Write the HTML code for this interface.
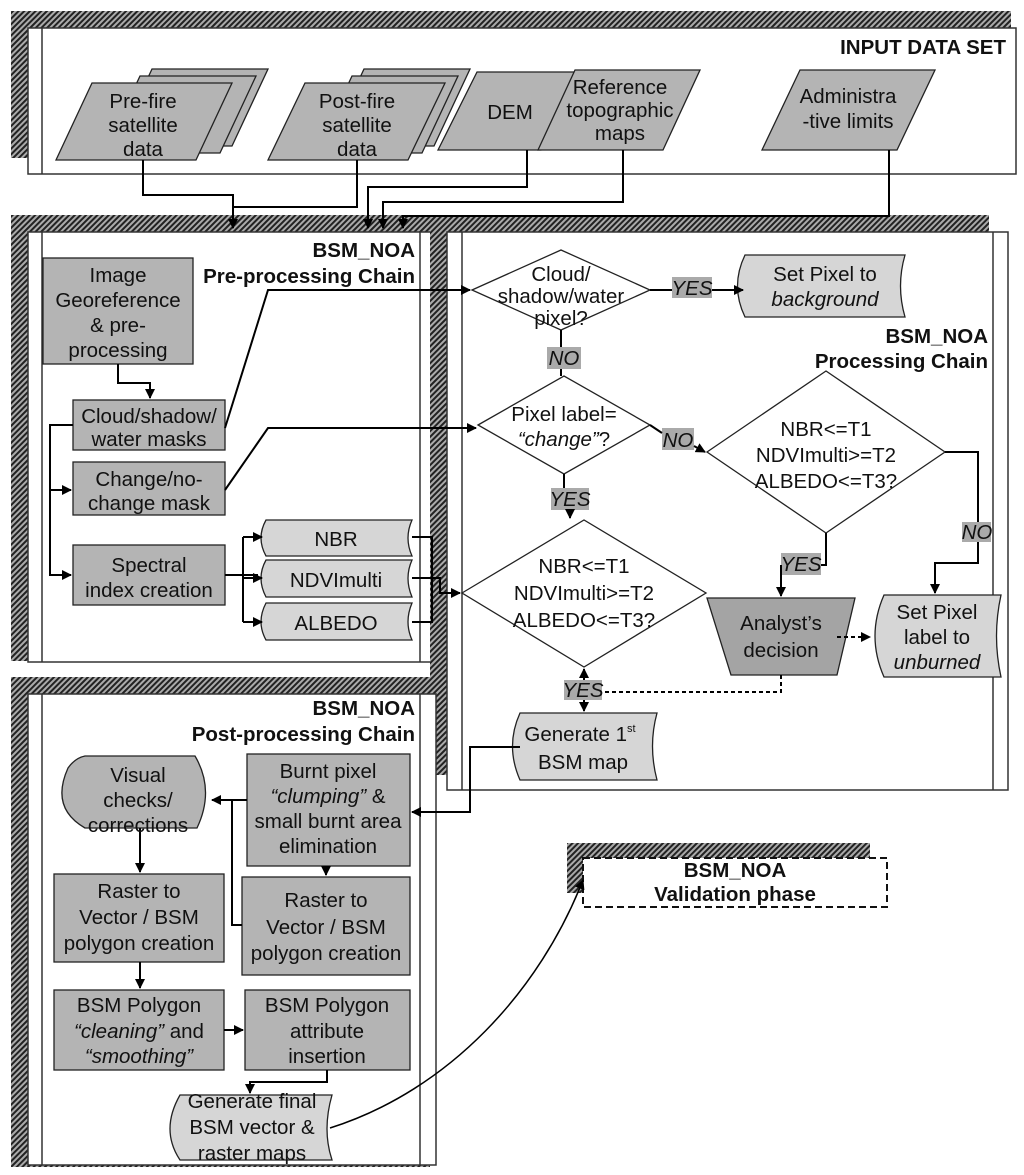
<!DOCTYPE html>
<html><head><meta charset="utf-8"><style>
html,body{margin:0;padding:0;background:#fff}
svg{display:block}
text{font-family:"Liberation Sans",Arial,sans-serif;font-size:20.5px;fill:#111}
.b{font-weight:bold}
.i{font-style:italic}
</style></head><body>
<svg width="1024" height="1175" viewBox="0 0 1024 1175" xmlns="http://www.w3.org/2000/svg">
<defs>
<pattern id="h" patternUnits="userSpaceOnUse" width="4" height="4" patternTransform="rotate(45)">
<rect width="4" height="4" fill="#aaa"/><rect width="2" height="4" fill="#222"/>
</pattern>
<marker id="a" markerWidth="10" markerHeight="10" refX="9" refY="5" orient="auto" markerUnits="userSpaceOnUse"><path d="M0,0 L10,5 L0,10 Z" fill="#000"/></marker>
</defs>
<g stroke="#333" stroke-width="1.5" fill="none">
<rect x="11" y="11" width="1000" height="147" fill="url(#h)" stroke="none"/>
<rect x="28" y="28" width="988" height="146" fill="#fff"/>
<line x1="42" y1="28" x2="42" y2="174"/>
<rect x="11" y="215" width="426" height="446" fill="url(#h)" stroke="none"/>
<rect x="28" y="232" width="409" height="430" fill="#fff"/>
<line x1="42" y1="232" x2="42" y2="662"/>
<line x1="420" y1="232" x2="420" y2="662"/>
<rect x="430" y="215" width="559" height="560" fill="url(#h)" stroke="none"/>
<rect x="447" y="232" width="561" height="558" fill="#fff"/>
<line x1="462" y1="232" x2="462" y2="790"/>
<line x1="993" y1="232" x2="993" y2="790"/>
<rect x="11" y="677" width="419" height="490" fill="url(#h)" stroke="none"/>
<rect x="28" y="694" width="408" height="471" fill="#fff"/>
<line x1="42" y1="694" x2="42" y2="1165"/>
<line x1="420" y1="694" x2="420" y2="1165"/>
<rect x="567" y="843" width="303" height="50" fill="url(#h)" stroke="none"/>
<rect x="583" y="858" width="304" height="49" fill="#fff" stroke="#111" stroke-width="2" stroke-dasharray="7,4"/>
</g>
<g stroke="#222" stroke-width="1.3" fill="#b4b4b4">
<path d="M116,146 L152,69 L268,69 L232,146 Z"/>
<path d="M104,153 L140,76 L256,76 L220,153 Z"/>
<path d="M56,160 L92,83 L232,83 L196,160 Z"/>
<path d="M328,146 L364,69 L470,69 L434,146 Z"/>
<path d="M316,153 L352,76 L458,76 L422,153 Z"/>
<path d="M268,160 L305,83 L445,83 L408,160 Z"/>
<path d="M438,150 L477,72 L580,72 L541,150 Z"/>
<path d="M538,150 L575,70 L700,70 L663,150 Z"/>
<path d="M762,150 L800,70 L935,70 L897,150 Z"/>
<rect x="43" y="258" width="150" height="106"/>
<rect x="73" y="400" width="152" height="50"/>
<rect x="73" y="462" width="152" height="53"/>
<rect x="73" y="545" width="152" height="60"/>
<path d="M266,520 L412,520 Q404,538 412,556 L266,556 Q256,538 266,520 Z" fill="#d6d6d6"/>
<path d="M266,560 L412,560 Q404,578 412,597 L266,597 Q256,578 266,560 Z" fill="#d6d6d6"/>
<path d="M266,603 L412,603 Q404,622 412,640 L266,640 Q256,622 266,603 Z" fill="#d6d6d6"/>
<path d="M745,255 L905,255 Q896,286 905,317 L745,317 Q730,286 745,255 Z" fill="#d6d6d6"/>
<path d="M884,595 L1001,595 Q992,636 1001,677 L884,677 Q866,636 884,595 Z" fill="#d6d6d6"/>
<path d="M707,598 L855,598 L837,675 L731,675 Z" fill="#a4a4a4"/>
<path d="M520,713 L657,713 Q648,746 657,780 L520,780 Q505,746 520,713 Z" fill="#d6d6d6"/>
<g fill="#fff">
<path d="M472,290 L561,250 L650,290 L561,330 Z"/>
<path d="M478,425 L564,376 L650,425 L564,474 Z"/>
<path d="M707,452 L826,371 L945,452 L826,533 Z"/>
<path d="M462,593 L584,520 L706,593 L584,667 Z"/>
</g>
<path d="M85,756 L195,756 Q215,790 197,828 L85,828 Q50,808 68,768 Q75,758 85,756 Z"/>
<rect x="247" y="754" width="163" height="112"/>
<rect x="54" y="874" width="170" height="88"/>
<rect x="242" y="877" width="168" height="98"/>
<rect x="54" y="990" width="170" height="80"/>
<rect x="245" y="990" width="165" height="80"/>
<path d="M180,1095 L332,1095 Q322,1130 332,1160 L180,1160 Q160,1130 180,1095 Z" fill="#d6d6d6"/>
</g>
<g fill="#aaa" stroke="none">
<rect x="672" y="277" width="40" height="21"/>
<rect x="547" y="347" width="34" height="22"/>
<rect x="662" y="428" width="32" height="22"/>
<rect x="551" y="488" width="38" height="22"/>
<rect x="781" y="553" width="40" height="22"/>
<rect x="962" y="522" width="29" height="20"/>
<rect x="564" y="680" width="38" height="20"/>
</g>
<g stroke="#000" stroke-width="2" fill="none">
<path d="M143,160 V195 H233 V228" marker-end="url(#a)"/>
<path d="M357,160 V207 H233"/>
<path d="M527,150 V187 H368 V228" marker-end="url(#a)"/>
<path d="M623,150 V202 H383 V228" marker-end="url(#a)"/>
<path d="M889,150 V216 H403 V228" marker-end="url(#a)"/>
<path d="M118,364 V383 H150 V398" marker-end="url(#a)"/>
<path d="M225,428 L268,290 H470" marker-end="url(#a)"/>
<path d="M225,490 L268,428 H476" marker-end="url(#a)"/>
<path d="M73,425 H50 V575 H71" marker-end="url(#a)"/>
<path d="M50,490 H71" marker-end="url(#a)"/>
<path d="M225,575 H258"/>
<path d="M243,537 V622"/>
<path d="M243,537 H262" marker-end="url(#a)"/>
<path d="M243,578 H262" marker-end="url(#a)"/>
<path d="M243,622 H262" marker-end="url(#a)"/>
<path d="M412,537 H432 V622 H412"/>
<path d="M412,578 H440 V593 H460" marker-end="url(#a)"/>
<path d="M650,290 H672"/><path d="M712,290 H743" marker-end="url(#a)"/>
<path d="M561,330 V347"/><path d="M561,369 V376"/>
<path d="M650,425 L662,433"/><path d="M694,446 L705,452" marker-end="url(#a)"/>
<path d="M564,474 V488"/><path d="M570,510 V518" marker-end="url(#a)"/>
<path d="M826,533 V565 H821"/><path d="M781,565 V596" marker-end="url(#a)"/>
<path d="M945,452 H978 V522"/><path d="M978,542 V563 H935 V593" marker-end="url(#a)"/>
<path d="M584,680 V669" marker-end="url(#a)"/>
<path d="M584,700 V711" marker-end="url(#a)"/>
<path d="M520,747 H470 V812 H412" marker-end="url(#a)"/>
<path d="M247,800 H212" marker-end="url(#a)"/>
<path d="M242,925 H232 V800"/>
<path d="M140,828 V872" marker-end="url(#a)"/>
<path d="M140,962 V988" marker-end="url(#a)"/>
<path d="M326,866 V875" marker-end="url(#a)"/>
<path d="M224,1030 H243" marker-end="url(#a)"/>
<path d="M327,1070 V1082 H250 V1093" marker-end="url(#a)"/>
<path d="M330,1128 C450,1090 540,990 583,880" marker-end="url(#a)" stroke-width="1.5"/>
<path d="M837,637 H870" stroke-dasharray="4,3" marker-end="url(#a)"/>
<path d="M781,675 V692 H603" stroke-dasharray="4,3"/>
</g>
<g text-anchor="middle" transform="translate(0,2)">
<text x="143" y="106">Pre-fire</text><text x="143" y="130">satellite</text><text x="143" y="154">data</text>
<text x="357" y="106">Post-fire</text><text x="357" y="130">satellite</text><text x="357" y="154">data</text>
<text x="510" y="117">DEM</text>
<text x="620" y="92">Reference</text><text x="620" y="115">topographic</text><text x="620" y="138">maps</text>
<text x="848" y="101">Administra</text><text x="848" y="126">-tive limits</text>
<text x="118" y="280">Image</text><text x="118" y="305">Georeference</text><text x="118" y="330">&amp; pre-</text><text x="118" y="355">processing</text>
<text x="149" y="421">Cloud/shadow/</text><text x="149" y="444">water masks</text>
<text x="149" y="484">Change/no-</text><text x="149" y="508">change mask</text>
<text x="149" y="570">Spectral</text><text x="149" y="595">index creation</text>
<text x="336" y="544">NBR</text><text x="336" y="585">NDVImulti</text><text x="336" y="628">ALBEDO</text>
<text x="561" y="279">Cloud/</text><text x="561" y="301">shadow/water</text><text x="561" y="323">pixel?</text>
<text x="692" y="293" class="i">YES</text>
<text x="825" y="279">Set Pixel to</text><text x="825" y="304" class="i">background</text>
<text x="564" y="363" class="i">NO</text>
<text x="564" y="419">Pixel label=</text><text x="564" y="444"><tspan class="i">“change”</tspan>?</text>
<text x="678" y="445" class="i">NO</text>
<text x="826" y="434">NBR&lt;=T1</text><text x="826" y="460">NDVImulti&gt;=T2</text><text x="826" y="486">ALBEDO&lt;=T3?</text>
<text x="570" y="504" class="i">YES</text>
<text x="584" y="571">NBR&lt;=T1</text><text x="584" y="598">NDVImulti&gt;=T2</text><text x="584" y="625">ALBEDO&lt;=T3?</text>
<text x="801" y="569" class="i">YES</text>
<text x="977" y="537" class="i">NO</text>
<text x="781" y="628">Analyst’s</text><text x="781" y="655">decision</text>
<text x="937" y="617">Set Pixel</text><text x="937" y="642">label to</text><text x="937" y="667" class="i">unburned</text>
<text x="583" y="695" class="i">YES</text>
<text x="580" y="739">Generate 1<tspan font-size="11" dy="-9">st</tspan></text><text x="583" y="767">BSM map</text>
<text x="138" y="780">Visual</text><text x="138" y="805">checks/</text><text x="138" y="830">corrections</text>
<text x="328" y="776">Burnt pixel</text><text x="328" y="801"><tspan class="i">“clumping”</tspan> &amp;</text><text x="328" y="826">small burnt area</text><text x="328" y="851">elimination</text>
<text x="139" y="896">Raster to</text><text x="139" y="922">Vector / BSM</text><text x="139" y="948">polygon creation</text>
<text x="326" y="905">Raster to</text><text x="326" y="932">Vector / BSM</text><text x="326" y="958">polygon creation</text>
<text x="139" y="1010">BSM Polygon</text><text x="139" y="1036"><tspan class="i">“cleaning”</tspan> and</text><text x="139" y="1061" class="i">“smoothing”</text>
<text x="327" y="1010">BSM Polygon</text><text x="327" y="1036">attribute</text><text x="327" y="1061">insertion</text>
<text x="252" y="1106">Generate final</text><text x="252" y="1132">BSM vector &amp;</text><text x="252" y="1158">raster maps</text>
<text x="735" y="875" class="b">BSM_NOA</text><text x="735" y="899" class="b">Validation phase</text>
</g>
<g text-anchor="end" transform="translate(0,2)">
<text x="1006" y="52" class="b">INPUT DATA SET</text>
<text x="415" y="255" class="b">BSM_NOA</text><text x="415" y="281" class="b">Pre-processing Chain</text>
<text x="988" y="341" class="b">BSM_NOA</text><text x="988" y="366" class="b">Processing Chain</text>
<text x="415" y="713" class="b">BSM_NOA</text><text x="415" y="739" class="b">Post-processing Chain</text>
</g>
</svg>
</body></html>
